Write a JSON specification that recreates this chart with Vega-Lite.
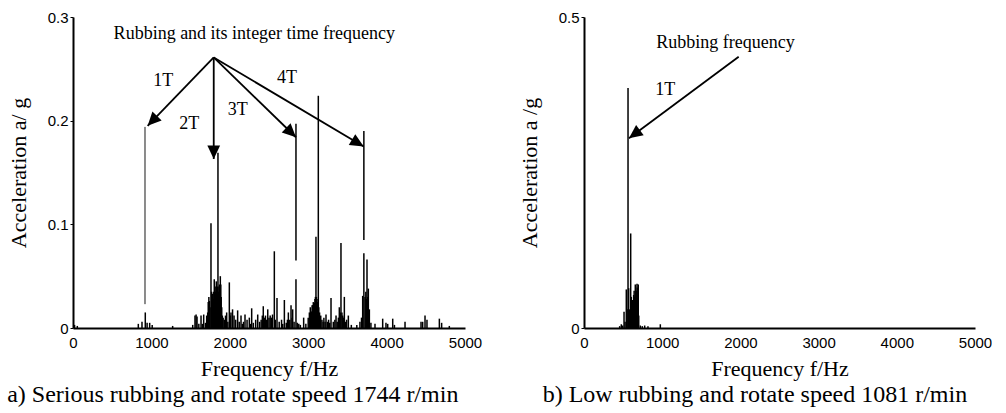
{
  "$schema": "https://vega.github.io/schema/vega-lite/v6.json",
  "padding": {"left": 7, "top": 10, "right": 0, "bottom": 0},
  "spacing": 36,
  "config": {
    "view": {"stroke": null},
    "axis": {
      "domainColor": "black", "domainWidth": 2, "tickColor": "black", "grid": false,
      "labelFont": "Liberation Sans", "labelFontSize": 15, "labelColor": "black", "labelFlush": false,
      "titleFont": "Liberation Serif", "titleFontSize": 22, "titleFontWeight": "normal", "titleColor": "black"
    },
    "text": {"font": "Liberation Serif", "color": "black"}
  },
  "hconcat": [
    {
      "width": 392, "height": 311,
      "title": {"text": "a) Serious rubbing and rotate speed 1744 r/min", "orient": "bottom", "anchor": "start", "frame": "bounds", "font": "Liberation Serif", "fontSize": 24, "fontWeight": "normal", "color": "black", "offset": 4},
      "layer": [
        {
          "data": {"values": [
            {"f":20,"lo":0,"hi":0.003},{"f":55,"lo":0,"hi":0.002},{"f":833,"lo":0,"hi":0.004},{"f":880,"lo":0,"hi":0.006},
            {"f":922,"lo":0,"hi":0.015},{"f":945,"lo":0,"hi":0.005},{"f":978,"lo":0,"hi":0.005},{"f":1010,"lo":0,"hi":0.003},
            {"f":1271,"lo":0,"hi":0.002},{"f":1527,"lo":0,"hi":0.003},{"f":1556,"lo":0,"hi":0.012},{"f":1570,"lo":0,"hi":0.013},
            {"f":1582,"lo":0,"hi":0.011},{"f":1605,"lo":0,"hi":0.004},{"f":1633,"lo":0,"hi":0.012},{"f":1650,"lo":0,"hi":0.004},
            {"f":1667,"lo":0,"hi":0.013},{"f":1690,"lo":0,"hi":0.005},{"f":1705,"lo":0,"hi":0.012},{"f":1718,"lo":0,"hi":0.015},
            {"f":1725,"lo":0,"hi":0.025},{"f":1733,"lo":0,"hi":0.03},{"f":1740,"lo":0,"hi":0.026},{"f":1748,"lo":0,"hi":0.02},
            {"f":1760,"lo":0,"hi":0.101},{"f":1768,"lo":0,"hi":0.035},{"f":1775,"lo":0,"hi":0.03},{"f":1781,"lo":0,"hi":0.033},
            {"f":1790,"lo":0,"hi":0.028},{"f":1796,"lo":0,"hi":0.035},{"f":1802,"lo":0,"hi":0.047},{"f":1808,"lo":0,"hi":0.03},
            {"f":1815,"lo":0,"hi":0.035},{"f":1822,"lo":0,"hi":0.04},{"f":1828,"lo":0,"hi":0.045},{"f":1835,"lo":0,"hi":0.03},
            {"f":1840,"lo":0,"hi":0.04},{"f":1849,"lo":0,"hi":0.169},{"f":1856,"lo":0,"hi":0.035},{"f":1862,"lo":0,"hi":0.04},
            {"f":1868,"lo":0,"hi":0.042},{"f":1873,"lo":0,"hi":0.038},{"f":1879,"lo":0,"hi":0.05},{"f":1885,"lo":0,"hi":0.042},
            {"f":1890,"lo":0,"hi":0.03},{"f":1897,"lo":0,"hi":0.02},{"f":1905,"lo":0,"hi":0.012},{"f":1915,"lo":0,"hi":0.01},
            {"f":1930,"lo":0,"hi":0.008},{"f":1945,"lo":0,"hi":0.012},{"f":1960,"lo":0,"hi":0.015},{"f":1975,"lo":0,"hi":0.006},
            {"f":1994,"lo":0,"hi":0.044},{"f":2005,"lo":0,"hi":0.012},{"f":2015,"lo":0,"hi":0.015},{"f":2035,"lo":0,"hi":0.018},
            {"f":2054,"lo":0,"hi":0.012},{"f":2075,"lo":0,"hi":0.008},{"f":2100,"lo":0,"hi":0.017},{"f":2120,"lo":0,"hi":0.006},
            {"f":2143,"lo":0,"hi":0.012},{"f":2160,"lo":0,"hi":0.004},{"f":2175,"lo":0,"hi":0.006},{"f":2194,"lo":0,"hi":0.013},
            {"f":2220,"lo":0,"hi":0.008},{"f":2249,"lo":0,"hi":0.01},{"f":2265,"lo":0,"hi":0.004},{"f":2279,"lo":0,"hi":0.019},
            {"f":2300,"lo":0,"hi":0.005},{"f":2330,"lo":0,"hi":0.008},{"f":2356,"lo":0,"hi":0.013},{"f":2380,"lo":0,"hi":0.006},
            {"f":2400,"lo":0,"hi":0.008},{"f":2415,"lo":0,"hi":0.012},{"f":2427,"lo":0,"hi":0.021},{"f":2440,"lo":0,"hi":0.01},
            {"f":2455,"lo":0,"hi":0.012},{"f":2470,"lo":0,"hi":0.008},{"f":2484,"lo":0,"hi":0.018},{"f":2500,"lo":0,"hi":0.01},
            {"f":2515,"lo":0,"hi":0.012},{"f":2530,"lo":0,"hi":0.01},{"f":2545,"lo":0,"hi":0.013},{"f":2568,"lo":0,"hi":0.074},
            {"f":2580,"lo":0,"hi":0.008},{"f":2602,"lo":0,"hi":0.029},{"f":2630,"lo":0,"hi":0.006},{"f":2660,"lo":0,"hi":0.008},
            {"f":2675,"lo":0,"hi":0.004},{"f":2696,"lo":0,"hi":0.027},{"f":2720,"lo":0,"hi":0.005},{"f":2735,"lo":0,"hi":0.008},
            {"f":2747,"lo":0,"hi":0.015},{"f":2765,"lo":0,"hi":0.008},{"f":2781,"lo":0,"hi":0.022},{"f":2795,"lo":0,"hi":0.01},
            {"f":2802,"lo":0,"hi":0.018},{"f":2820,"lo":0,"hi":0.006},{"f":2844,"lo":0,"hi":0.047},{"f":2844,"lo":0.065,"hi":0.197},
            {"f":2860,"lo":0,"hi":0.005},{"f":2880,"lo":0,"hi":0.004},{"f":2900,"lo":0,"hi":0.003},{"f":2942,"lo":0,"hi":0.01},
            {"f":2970,"lo":0,"hi":0.004},{"f":3000,"lo":0,"hi":0.01},{"f":3015,"lo":0,"hi":0.015},{"f":3027,"lo":0,"hi":0.02},
            {"f":3040,"lo":0,"hi":0.016},{"f":3050,"lo":0,"hi":0.022},{"f":3057,"lo":0,"hi":0.022},{"f":3065,"lo":0,"hi":0.025},
            {"f":3072,"lo":0,"hi":0.02},{"f":3080,"lo":0,"hi":0.024},{"f":3086,"lo":0,"hi":0.028},{"f":3092,"lo":0,"hi":0.03},
            {"f":3099,"lo":0,"hi":0.088},{"f":3105,"lo":0,"hi":0.03},{"f":3112,"lo":0,"hi":0.028},{"f":3118,"lo":0,"hi":0.025},
            {"f":3124,"lo":0,"hi":0.02},{"f":3129,"lo":0,"hi":0.224},{"f":3135,"lo":0,"hi":0.02},{"f":3145,"lo":0,"hi":0.015},
            {"f":3160,"lo":0,"hi":0.012},{"f":3175,"lo":0,"hi":0.008},{"f":3190,"lo":0,"hi":0.006},{"f":3200,"lo":0,"hi":0.01},
            {"f":3215,"lo":0,"hi":0.006},{"f":3227,"lo":0,"hi":0.013},{"f":3245,"lo":0,"hi":0.006},{"f":3260,"lo":0,"hi":0.008},
            {"f":3275,"lo":0,"hi":0.005},{"f":3291,"lo":0,"hi":0.029},{"f":3320,"lo":0,"hi":0.006},{"f":3340,"lo":0,"hi":0.008},
            {"f":3355,"lo":0,"hi":0.012},{"f":3370,"lo":0,"hi":0.006},{"f":3385,"lo":0,"hi":0.01},{"f":3397,"lo":0,"hi":0.02},
            {"f":3408,"lo":0,"hi":0.015},{"f":3418,"lo":0,"hi":0.082},{"f":3430,"lo":0,"hi":0.015},{"f":3440,"lo":0,"hi":0.012},
            {"f":3450,"lo":0,"hi":0.01},{"f":3461,"lo":0,"hi":0.03},{"f":3475,"lo":0,"hi":0.006},{"f":3490,"lo":0,"hi":0.008},
            {"f":3512,"lo":0,"hi":0.012},{"f":3550,"lo":0,"hi":0.003},{"f":3620,"lo":0,"hi":0.003},{"f":3660,"lo":0,"hi":0.006},
            {"f":3680,"lo":0,"hi":0.01},{"f":3695,"lo":0,"hi":0.031},{"f":3710,"lo":0,"hi":0.072},{"f":3710,"lo":0.085,"hi":0.19},
            {"f":3725,"lo":0,"hi":0.03},{"f":3735,"lo":0,"hi":0.035},{"f":3742,"lo":0,"hi":0.028},{"f":3750,"lo":0,"hi":0.066},
            {"f":3758,"lo":0,"hi":0.03},{"f":3767,"lo":0,"hi":0.038},{"f":3780,"lo":0,"hi":0.018},{"f":3800,"lo":0,"hi":0.005},
            {"f":3852,"lo":0,"hi":0.004},{"f":3950,"lo":0,"hi":0.009},{"f":3992,"lo":0,"hi":0.005},{"f":4014,"lo":0,"hi":0.004},
            {"f":4078,"lo":0,"hi":0.009},{"f":4100,"lo":0,"hi":0.003},{"f":4235,"lo":0,"hi":0.006},{"f":4439,"lo":0,"hi":0.006},
            {"f":4460,"lo":0,"hi":0.006},{"f":4490,"lo":0,"hi":0.012},{"f":4515,"lo":0,"hi":0.008},{"f":4673,"lo":0,"hi":0.009},
            {"f":4702,"lo":0,"hi":0.005},{"f":4800,"lo":0,"hi":0.002}
          ]},
          "mark": {"type": "rule", "color": "black", "strokeWidth": 1.5},
          "encoding": {
            "x": {"field": "f", "type": "quantitative", "scale": {"domain": [0, 5000], "nice": false},
                  "axis": {"values": [0,1000,2000,3000,4000,5000], "format": "d", "title": "Frequency f/Hz", "ticks": false, "labelPadding": 7, "titlePadding": 8}},
            "y": {"field": "hi", "type": "quantitative", "scale": {"domain": [0, 0.3], "nice": false},
                  "axis": {"values": [0,0.1,0.2,0.3], "format": "~g", "title": "Acceleration a/ g", "tickSize": 3, "labelPadding": 2, "titlePadding": 17}},
            "y2": {"field": "lo"}
          }
        },
        {
          "data": {"values": [{"f": 918, "lo": 0.023, "hi": 0.194}]},
          "mark": {"type": "rule", "color": "#8a8a8a", "strokeWidth": 2},
          "encoding": {"x": {"field": "f", "type": "quantitative"}, "y": {"field": "hi", "type": "quantitative"}, "y2": {"field": "lo"}}
        },
        {
          "data": {"values": [
            {"f": 1795, "v": 0.261, "f2": 952, "v2": 0.195},
            {"f": 1795, "v": 0.261, "f2": 1795, "v2": 0.163},
            {"f": 1795, "v": 0.261, "f2": 2844, "v2": 0.184},
            {"f": 1795, "v": 0.261, "f2": 3708, "v2": 0.175}
          ]},
          "mark": {"type": "rule", "color": "black", "strokeWidth": 1.8},
          "encoding": {"x": {"field": "f", "type": "quantitative"}, "y": {"field": "v", "type": "quantitative"}, "x2": {"field": "f2"}, "y2": {"field": "v2"}}
        },
        {
          "data": {"values": [{"f": 952, "v": 0.195}]},
          "mark": {"type": "point", "shape": "M0,0L0.75,1.6L-0.75,1.6Z", "size": 289, "filled": true, "color": "black", "opacity": 1, "angle": 223.7},
          "encoding": {"x": {"field": "f", "type": "quantitative"}, "y": {"field": "v", "type": "quantitative"}}
        },
        {
          "data": {"values": [{"f": 1795, "v": 0.163}]},
          "mark": {"type": "point", "shape": "M0,0L0.75,1.6L-0.75,1.6Z", "size": 289, "filled": true, "color": "black", "opacity": 1, "angle": 180},
          "encoding": {"x": {"field": "f", "type": "quantitative"}, "y": {"field": "v", "type": "quantitative"}}
        },
        {
          "data": {"values": [{"f": 2844, "v": 0.184}]},
          "mark": {"type": "point", "shape": "M0,0L0.75,1.6L-0.75,1.6Z", "size": 289, "filled": true, "color": "black", "opacity": 1, "angle": 133.8},
          "encoding": {"x": {"field": "f", "type": "quantitative"}, "y": {"field": "v", "type": "quantitative"}}
        },
        {
          "data": {"values": [{"f": 3708, "v": 0.175}]},
          "mark": {"type": "point", "shape": "M0,0L0.75,1.6L-0.75,1.6Z", "size": 289, "filled": true, "color": "black", "opacity": 1, "angle": 120.7},
          "encoding": {"x": {"field": "f", "type": "quantitative"}, "y": {"field": "v", "type": "quantitative"}}
        },
        {
          "data": {"values": [
            {"t": "Rubbing and its integer time frequency", "f": 2313, "v": 0.284},
            {"t": "1T", "f": 1152, "v": 0.238},
            {"t": "2T", "f": 1483, "v": 0.197},
            {"t": "3T", "f": 2100, "v": 0.21},
            {"t": "4T", "f": 2730, "v": 0.241}
          ]},
          "mark": {"type": "text", "fontSize": 18, "align": "center", "baseline": "middle"},
          "encoding": {"x": {"field": "f", "type": "quantitative"}, "y": {"field": "v", "type": "quantitative"}, "text": {"field": "t"}}
        }
      ]
    },
    {
      "width": 391, "height": 311,
      "title": {"text": "b) Low rubbing and rotate speed 1081 r/min", "orient": "bottom", "anchor": "middle", "frame": "bounds", "font": "Liberation Serif", "fontSize": 24, "fontWeight": "normal", "color": "black", "offset": 4},
      "layer": [
        {
          "data": {"values": [
            {"f":456,"lo":0,"hi":0.003},{"f":477,"lo":0,"hi":0.006},{"f":495,"lo":0,"hi":0.004},{"f":512,"lo":0,"hi":0.026},
            {"f":525,"lo":0,"hi":0.01},{"f":541,"lo":0,"hi":0.062},{"f":552,"lo":0,"hi":0.03},{"f":563,"lo":0,"hi":0.386},
            {"f":571,"lo":0,"hi":0.064},{"f":584,"lo":0,"hi":0.03},{"f":597,"lo":0,"hi":0.152},{"f":605,"lo":0,"hi":0.05},
            {"f":614,"lo":0,"hi":0.038},{"f":620,"lo":0,"hi":0.045},{"f":627,"lo":0,"hi":0.04},{"f":635,"lo":0,"hi":0.053},
            {"f":641,"lo":0,"hi":0.06},{"f":648,"lo":0,"hi":0.05},{"f":656,"lo":0,"hi":0.07},{"f":662,"lo":0,"hi":0.065},
            {"f":669,"lo":0,"hi":0.06},{"f":678,"lo":0,"hi":0.071},{"f":687,"lo":0,"hi":0.065},{"f":694,"lo":0,"hi":0.07},
            {"f":700,"lo":0,"hi":0.02},{"f":720,"lo":0,"hi":0.004},{"f":745,"lo":0,"hi":0.003},{"f":776,"lo":0,"hi":0.004},
            {"f":818,"lo":0,"hi":0.003},{"f":976,"lo":0,"hi":0.006}
          ]},
          "mark": {"type": "rule", "color": "black", "strokeWidth": 1.5},
          "encoding": {
            "x": {"field": "f", "type": "quantitative", "scale": {"domain": [0, 5000], "nice": false},
                  "axis": {"values": [0,1000,2000,3000,4000,5000], "format": "d", "title": "Frequency f/Hz", "ticks": false, "labelPadding": 7, "titlePadding": 8}},
            "y": {"field": "hi", "type": "quantitative", "scale": {"domain": [0, 0.5], "nice": false},
                  "axis": {"values": [0, 0.5], "format": "~g", "title": "Acceleration a /g", "tickSize": 3, "labelPadding": 2, "titlePadding": 17}},
            "y2": {"field": "lo"}
          }
        },
        {
          "data": {"values": [{"f": 1978, "v": 0.436, "f2": 575, "v2": 0.305}]},
          "mark": {"type": "rule", "color": "black", "strokeWidth": 1.8},
          "encoding": {"x": {"field": "f", "type": "quantitative"}, "y": {"field": "v", "type": "quantitative"}, "x2": {"field": "f2"}, "y2": {"field": "v2"}}
        },
        {
          "data": {"values": [{"f": 575, "v": 0.305}]},
          "mark": {"type": "point", "shape": "M0,0L0.75,1.6L-0.75,1.6Z", "size": 289, "filled": true, "color": "black", "opacity": 1, "angle": 233.5},
          "encoding": {"x": {"field": "f", "type": "quantitative"}, "y": {"field": "v", "type": "quantitative"}}
        },
        {
          "data": {"values": [
            {"t": "Rubbing frequency", "f": 1809, "v": 0.459},
            {"t": "1T", "f": 1040, "v": 0.382}
          ]},
          "mark": {"type": "text", "fontSize": 18, "align": "center", "baseline": "middle"},
          "encoding": {"x": {"field": "f", "type": "quantitative"}, "y": {"field": "v", "type": "quantitative"}, "text": {"field": "t"}}
        }
      ]
    }
  ]
}
